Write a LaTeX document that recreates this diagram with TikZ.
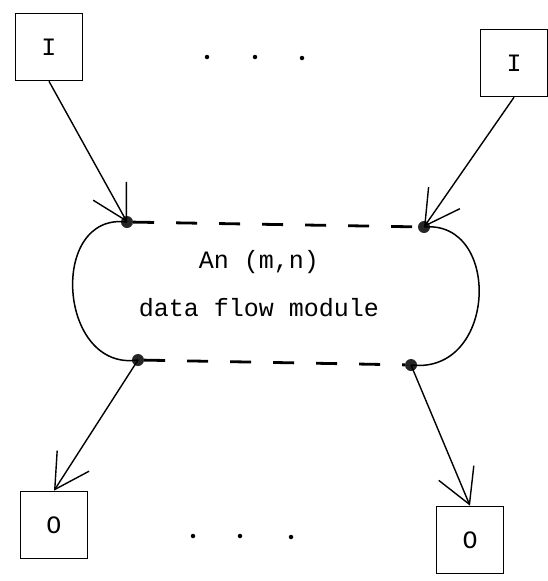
\documentclass[tikz,border=0pt]{standalone}
\usepackage{fontspec}
\setmonofont{Liberation Mono}
\usetikzlibrary{arrows.meta}
\begin{document}
\begin{tikzpicture}[x=1pt,y=-1pt,
  iobox/.style={draw, line width=1.6pt, minimum width=67pt, minimum height=67pt, inner sep=0pt, font=\ttfamily\fontsize{25}{28}\selectfont},
  port/.style={circle, fill=black!85, inner sep=0pt, minimum size=12pt},
  flow/.style={line width=1.4pt, -{Straight Barb[length=34pt, width=38pt, line width=1.4pt]}},
  outline/.style={line width=1.5pt},
  dashline/.style={line width=2.8pt, dash pattern=on 21pt off 22pt},
  lbl/.style={font=\ttfamily\fontsize{25}{28}\selectfont, inner sep=0pt},
  ellip/.style={circle, fill=black, inner sep=0pt, minimum size=4.5pt}]
\useasboundingbox (0,0) rectangle (548,581);
% boxes
\node[iobox] (tlI) at (49,47) {I};
\node[iobox] (trI) at (514,63) {I};
\node[iobox] (blO) at (54,525) {O};
\node[iobox] (brO) at (470,540) {O};
% ports
\node[port] (tl) at (127,222) {};
\node[port] (tr) at (424,227) {};
\node[port] (bl) at (138,360) {};
\node[port] (br) at (411,365) {};
% module outline
\draw[outline] (tl.center) .. controls (48,212) and (58,372) .. (bl.center);
\draw[outline] (tr.center) .. controls (502,220) and (497,375) .. (br.center);
\draw[dashline] (tl) -- (tr);
\draw[dashline] (bl) -- (br);
\node[lbl] (t1) at (259,262) {An (m,n)};
\node[lbl] (t2) at (259,308) {data flow module};
% connectors
\draw[flow] (tlI.south) -- (tl.center);
\draw[flow] (trI.south) -- (tr.center);
\draw[flow] (bl.center) -- (blO.north);
\draw[flow] (br.center) -- (brO.north);
% ellipses
\node[ellip] (d1) at (207,57) {};
\node[ellip] (d2) at (255,57) {};
\node[ellip] (d3) at (302,58) {};
\node[ellip] (d4) at (193,536) {};
\node[ellip] (d5) at (240,536) {};
\node[ellip] (d6) at (291,537) {};
\end{tikzpicture}
\end{document}
